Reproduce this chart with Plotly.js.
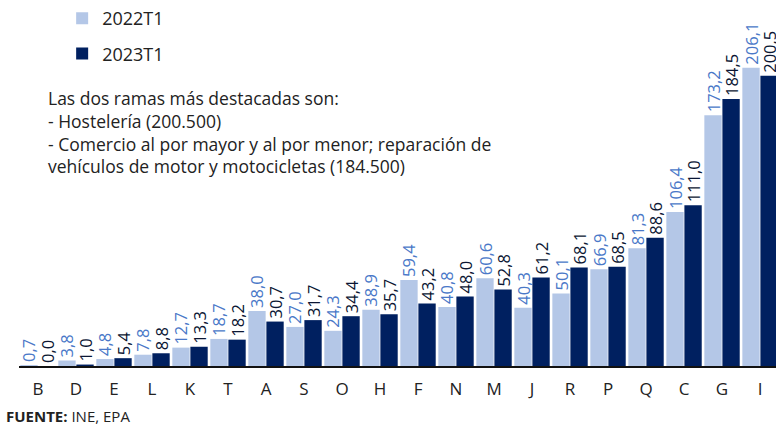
<!DOCTYPE html>
<html>
<head>
<meta charset="utf-8">
<script src="https://cdn.plot.ly/plotly-3.0.1.min.js"></script>
<style>
  html, body { margin: 0; padding: 0; background: #fff; }
  #chart { width: 776px; height: 427px; }
</style>
</head>
<body>
<div id="chart"></div>
<script>
const categories = ['B', 'D', 'E', 'L', 'K', 'T', 'A', 'S', 'O', 'H', 'F', 'N', 'M', 'J', 'R', 'P', 'Q', 'C', 'G', 'I'];
const values2022 = [0.7, 3.8, 4.8, 7.8, 12.7, 18.7, 38.0, 27.0, 24.3, 38.9, 59.4, 40.8, 60.6, 40.3, 50.1, 66.9, 81.3, 106.4, 173.2, 206.1];
const values2023 = [0.0, 1.0, 5.4, 8.8, 13.3, 18.2, 30.7, 31.7, 34.4, 35.7, 43.2, 48.0, 52.8, 61.2, 68.1, 68.5, 88.6, 111.0, 184.5, 200.5];

const fontFamily = '"Open Sans", Lato, sans-serif';

const data = [
  {
    type: 'bar',
    name: '2022T1',
    x: categories,
    y: values2022,
    legendgroup: 'a',
    marker: {color: '#b4c7e7'},
    texttemplate: '%{y:.1f}',
    textposition: 'outside',
    textangle: -90,
    constraintext: 'none',
    textfont: {family: fontFamily, size: 16.5, color: '#4a78c8'},
    cliponaxis: false,
    hoverinfo: 'skip'
  },
  {
    type: 'bar',
    name: '2023T1',
    x: categories,
    y: values2023,
    legendgroup: 'b',
    marker: {color: '#002060'},
    texttemplate: '%{y:.1f}',
    textposition: 'outside',
    textangle: -90,
    constraintext: 'none',
    textfont: {family: fontFamily, size: 16.5, color: '#0b1633'},
    cliponaxis: false,
    hoverinfo: 'skip'
  }
];

const layout = {
  width: 776,
  height: 427,
  margin: {t: 0, b: 61, l: 19, r: 0},
  separators: ',.',
  paper_bgcolor: '#fff',
  plot_bgcolor: '#fff',
  font: {family: fontFamily, size: 16, color: '#222'},
  barmode: 'group',
  bargap: 0.05,
  bargroupgap: 0.04,
  showlegend: true,
  legend: {
    x: 0.057, y: 1.02, xanchor: 'left', yanchor: 'top',
    traceorder: 'grouped',
    tracegroupgap: 9,
    font: {family: fontFamily, size: 18, color: '#222'},
    bgcolor: 'rgba(0,0,0,0)'
  },
  xaxis: {
    type: 'category',
    range: [-0.5, 19.42],
    showline: true,
    linecolor: '#111',
    linewidth: 2,
    ticks: '',
    ticklabelstandoff: 7,
    tickfont: {family: fontFamily, size: 17, color: '#222'},
    showgrid: false,
    zeroline: false
  },
  yaxis: {
    range: [0, 248],
    visible: false,
    showgrid: false,
    zeroline: false
  },
  annotations: [
    {
      xref: 'paper', yref: 'paper', x: 0.036, y: 0.785,
      xanchor: 'left', yanchor: 'top', align: 'left',
      showarrow: false,
      font: {family: fontFamily, size: 17.5, color: '#222'},
      text: 'Las dos ramas más destacadas son:<br>- Hostelería (200.500)<br>- Comercio al por mayor y al por menor; reparación de<br>vehículos de motor y motocicletas (184.500)'
    },
    {
      xref: 'paper', yref: 'paper', x: -0.02, y: -0.14,
      xanchor: 'left', yanchor: 'middle', align: 'left',
      showarrow: false,
      font: {family: fontFamily, size: 15, color: '#222'},
      text: '<b>FUENTE:</b> INE, EPA'
    }
  ]
};

Plotly.newPlot('chart', data, layout, {displayModeBar: false, staticPlot: true});
</script>
</body>
</html>
